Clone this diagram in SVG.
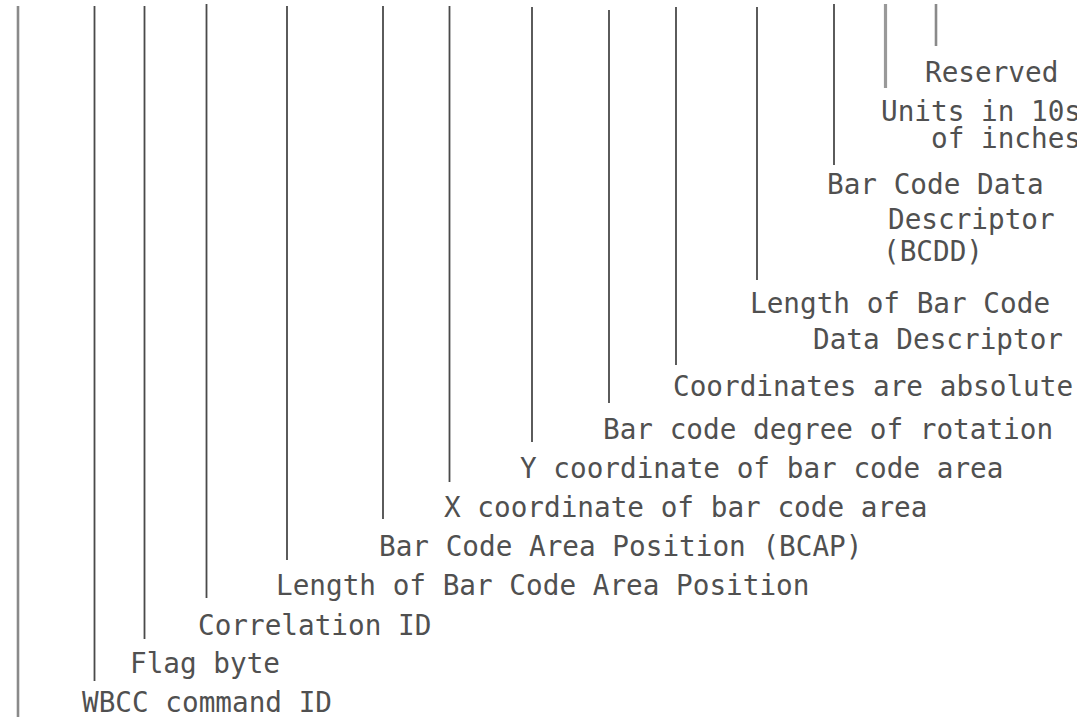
<svg xmlns="http://www.w3.org/2000/svg" width="1086" height="719" viewBox="0 0 1086 719">
<defs>
<style>
.bg{fill:#ffffff}
.ln{stroke:#4a4a4a;stroke-width:1.8;fill:none}
.lnl{stroke:#8a8a8a;stroke-width:2.6;fill:none}
.t{font-family:"DejaVu Sans Mono","Liberation Mono",monospace;font-size:27.7px;fill:#505050}
</style>
<clipPath id="clip"><rect x="0" y="0" width="1077" height="719"/></clipPath>
</defs>
<rect class="bg" x="0" y="0" width="1086" height="719"/>
<g id="connectors">
<line class="lnl" x1="18" y1="6" x2="18" y2="717"/>
<line class="ln" x1="94.5" y1="6" x2="94.5" y2="681"/>
<line class="ln" x1="144.5" y1="6" x2="144.5" y2="639"/>
<line class="ln" x1="206.5" y1="4" x2="206.5" y2="598"/>
<line class="ln" x1="287" y1="6" x2="287" y2="560"/>
<line class="ln" x1="383" y1="6" x2="383" y2="519"/>
<line class="ln" x1="449.5" y1="6" x2="449.5" y2="482"/>
<line class="ln" x1="532" y1="7" x2="532" y2="442"/>
<line class="ln" x1="609" y1="10" x2="609" y2="403"/>
<line class="ln" x1="676" y1="7" x2="676" y2="365"/>
<line class="ln" x1="757" y1="7" x2="757" y2="280"/>
<line class="ln" x1="834" y1="4" x2="834" y2="165"/>
<line class="lnl" x1="885.5" y1="4" x2="885.5" y2="88" style="stroke-width:3.2;stroke:#999"/>
<line class="lnl" x1="936" y1="4" x2="936" y2="46"/>
</g>
<g clip-path="url(#clip)">
<g id="reserved"><text class="t" x="925" y="82">Reserved</text></g>
<g id="units"><text class="t" x="881" y="121">Units in 10s</text><text class="t" x="931" y="148">of inches</text></g>
<g id="bcdd"><text class="t" x="827" y="194">Bar Code Data</text><text class="t" x="888" y="229">Descriptor</text><text class="t" x="883" y="261">(BCDD)</text></g>
<g id="len-bcdd"><text class="t" x="750" y="313">Length of Bar Code</text><text class="t" x="813" y="349">Data Descriptor</text></g>
<g id="coords-abs"><text class="t" x="673" y="396">Coordinates are absolute</text></g>
<g id="rotation"><text class="t" x="603" y="439">Bar code degree of rotation</text></g>
<g id="y-coord"><text class="t" x="520" y="478">Y coordinate of bar code area</text></g>
<g id="x-coord"><text class="t" x="444" y="517">X coordinate of bar code area</text></g>
<g id="bcap"><text class="t" x="379" y="556">Bar Code Area Position (BCAP)</text></g>
<g id="len-bcap"><text class="t" x="276" y="595">Length of Bar Code Area Position</text></g>
<g id="correlation"><text class="t" x="198" y="635">Correlation ID</text></g>
<g id="flag"><text class="t" x="130" y="673">Flag byte</text></g>
<g id="wbcc"><text class="t" x="82" y="712" textLength="250" lengthAdjust="spacing">WBCC command ID</text></g>
</g>
</svg>
